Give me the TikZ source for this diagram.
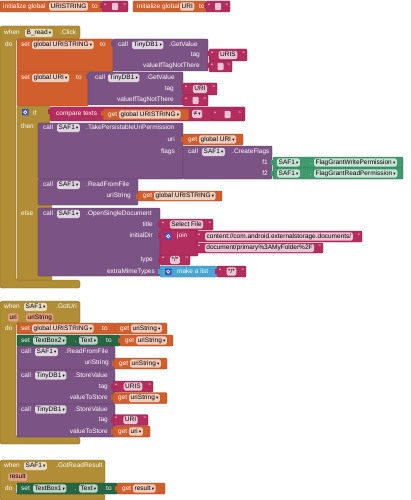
\documentclass[tikz,border=0pt]{standalone}
\usepackage{fontspec}
\setmainfont{Liberation Sans}
\newfontfamily\dv{DejaVu Sans}
\definecolor{gold}{HTML}{B18E35}
\definecolor{orng}{HTML}{D05F2D}
\definecolor{purp}{HTML}{7C5385}
\definecolor{pink}{HTML}{B32D5E}
\definecolor{dgrn}{HTML}{266643}
\definecolor{mgrn}{HTML}{3F9A6E}
\definecolor{lblu}{HTML}{49A6D4}
\definecolor{gearc}{HTML}{3A4FC8}
\colorlet{orF}{white!68!orng}
\colorlet{puF}{white!75!purp}
\colorlet{piF}{white!72!pink}
\colorlet{grF}{white!70!dgrn}
\colorlet{mgF}{white!72!mgrn}
\colorlet{goF}{white!68!gold}
\colorlet{prm}{white!40!orng}
\newcount\nc
\newcommand\fs{\fontsize{6.5}{7.5}\selectfont}
\newcommand\dd{\hspace{1.2pt}{\dv\fontsize{4.5}{5}\selectfont ▾}}
\tikzset{
  blk/.style={line width=0.35pt, rounded corners=1pt},
  lbl/.style={text=white, inner sep=0pt, font=\fs, text height=4.6pt, text depth=1.3pt},
  fld/.style={text=black, inner xsep=1.5pt, inner ysep=1.1pt, rounded corners=1.5pt, font=\fs,
     text height=4.6pt, text depth=1.3pt, anchor=west},
}
\newcommand\B[5]{\draw[blk,fill=#1,draw=#1!70!black] (#2,#3) rectangle (#4,#5);}
\newcommand\V[5]{\fill[#1] (#2-2.2,#3+2.5) rectangle (#2+0.5,#3+7.5);\B{#1}{#2}{#3}{#4}{#5}}
\newcommand\lb[2]{\global\advance\nc by 1\relax\node[lbl,anchor=west] (n\the\nc) at (#1) {#2};}
\newcommand\lr[2]{\global\advance\nc by 1\relax\node[lbl,anchor=east] (n\the\nc) at (#1) {#2};}
\newcommand\fd[3]{\global\advance\nc by 1\relax\node[fld,fill=#1] (n\the\nc) at (#2) {#3};}
\newcommand\fc[3]{\global\advance\nc by 1\relax\node[fld,fill=#1,anchor=center] (n\the\nc) at (#2) {#3};}
\newcommand\strb[5]{\V{pink}{#1}{#2}{#3}{#4}%
  \lb{#1+2,{(#2+#4)/2}}{“}\lr{#3-2,{(#2+#4)/2}}{”}%
  \fc{piF}{{(#1+#3)/2},{(#2+#4)/2}}{#5}}
\newcommand\estr[4]{\V{pink}{#1}{#2}{#3}{#4}%
  \lb{#1+2,{(#2+#4)/2}}{“}\lr{#3-2,{(#2+#4)/2}}{”}%
  \fill[piF,rounded corners=1pt] ({(#1+#3)/2-3},{(#2+#4)/2-3.6}) rectangle ({(#1+#3)/2+3},{(#2+#4)/2+3.6});}
\newcommand\getb[5]{\V{orng}{#1}{#2}{#3}{#4}%
  \lb{#1+5,{(#2+#4)/2}}{get}\fd{orF}{#1+16,{(#2+#4)/2}}{#5\dd}}
\newcommand\gearI[2]{\fill[gearc,rounded corners=0.6pt] (#1,#2) rectangle (#1+6.5,#2+6.5);
  \draw[white,line width=0.6pt] (#1+3.25,#2+3.25) circle (1.6pt);}
\newcommand\EV[5]{\draw[blk,fill=gold,draw=gold!70!black,rounded corners=1.5pt]
  (0,#2) -- (#1,#2) -- (#1,#3) -- (16,#3) -- (16,#4) -- (#1,#4) -- (#1,#5) -- (0,#5) -- cycle;}
\begin{document}
\begin{tikzpicture}[x=1pt,y=-1pt]
\useasboundingbox (0,0) rectangle (410,500);
% ---- globals
\B{orng}{0}{1}{102}{12}
\lb{3,6.5}{initialize global}\fd{orF}{49,6.5}{URISTRING}\lb{92,6.5}{to}
\estr{102}{1}{128}{12}
\B{orng}{133}{1}{206}{12}
\lb{137,6.5}{initialize global}\fd{orF}{180,6.5}{URI}\lb{199,6.5}{to}
\estr{206}{1}{230}{12}
% ---- event 1
\EV{80}{26}{39}{280}{288}
\lb{4,33}{when}\fd{goF}{25,33}{B\_read\dd}\lb{60,33}{.Click}
\lb{5,45}{do}
\B{orng}{17}{39}{113}{72}
\lb{21,45}{set}\fd{orF}{32,45}{global URISTRING\dd}\lb{100,45}{to}
\V{purp}{113}{39}{208}{71}
\lb{118,45}{call}\fd{puF}{132,45}{TinyDB1\dd}\lb{169,45}{.GetValue}
\lr{200,55}{tag}\lr{200,66}{valueIfTagNotThere}
\strb{209}{49}{247}{61}{URIS}
\estr{209}{61}{232}{72}
\B{orng}{17}{72}{88}{106}
\lb{21,78}{set}\fd{orF}{32,78}{global URI\dd}\lb{76,78}{to}
\V{purp}{88}{72}{183}{105}
\lb{95,78}{call}\fd{puF}{108,78}{TinyDB1\dd}\lb{146,78}{.GetValue}
\lr{174,89}{tag}\lr{174,100}{valueIfTagNotThere}
\strb{183}{83}{217}{95}{URI}
\estr{183}{95}{208}{106}
% if block
\draw[blk,fill=gold,draw=gold!70!black] (17,106) -- (50,106) -- (50,123) -- (38,123) -- (38,205) -- (52,205) -- (52,208) -- (38,208) -- (38,276) -- (52,276) -- (52,280) -- (17,280) -- cycle;
\gearI{22}{109}
\lb{33,114}{if}
\lb{21,127}{then}
\lb{21,214}{else}
\V{pink}{50}{107}{245}{121}
\lb{56,114}{compare texts}
\getb{103}{109}{189}{120}{global URISTRING}
\fd{piF}{192,114}{≠\dd}
\estr{212}{109}{243}{120}
% then
\B{purp}{38}{123}{183}{179}
\lb{43,128}{call}\fd{puF}{57,128}{SAF1\dd}\lb{86,128}{.TakePersistableUriPermission}
\lr{175,140}{uri}\lr{175,152}{flags}
\getb{183}{134}{243}{145}{global URI}
\V{purp}{183}{146}{272}{179}
\lb{188,152}{call}\fd{puF}{202,152}{SAF1\dd}\lb{232,152}{.CreateFlags}
\lr{268,162.5}{f1}\lr{268,173.5}{f2}
\V{mgrn}{273}{157}{403}{168}
\fd{mgF}{277,162.5}{SAF1\dd}\lb{309.5,162.5}{.}\fd{mgF}{314,162.5}{FlagGrantWritePermission\dd}
\V{mgrn}{273}{168}{403}{179}
\fd{mgF}{277,173.5}{SAF1\dd}\lb{309.5,173.5}{.}\fd{mgF}{314,173.5}{FlagGrantReadPermission\dd}
\B{purp}{38}{179}{138}{205}
\lb{43,185}{call}\fd{puF}{57,185}{SAF1\dd}\lb{86,185}{.ReadFromFile}
\lr{131,196}{uriString}
\getb{138}{191}{222}{201}{global URISTRING}
% else
\B{purp}{38}{208}{160}{276}
\lb{43,214}{call}\fd{puF}{57,214}{SAF1\dd}\lb{86,214}{.OpenSingleDocument}
\lr{153,225}{title}\lr{153,236}{initialDir}\lr{153,260}{type}\lr{155,271.5}{extraMimeTypes}
\strb{160}{219}{213}{230}{Select File}
\V{pink}{160}{230}{198}{256}
\gearI{165}{233}\lb{177,236}{join}
\strb{196}{231}{362}{242}{content://com.android.externalstorage.documents/}
\strb{196}{243}{323}{253}{document/primary\%3AMyFolder\%2F}
\strb{160}{255}{190}{265}{*/*}
\V{lblu}{160}{266}{217}{277}
\gearI{165}{268.3}\lb{177,271.5}{make a list}
\strb{217}{266}{246}{277}{*/*}
% ---- event 2
\EV{80}{301}{323}{437}{444}
\lb{4,307}{when}\fd{goF}{24,307}{SAF1\dd}\lb{56,307}{.GotUri}
\fd{prm}{8,317.5}{uri}\fd{prm}{26,317.5}{uriString}
\lb{5,329}{do}
\B{orng}{17}{323}{115}{334}
\lb{21,328.5}{set}\fd{orF}{32,328.5}{global URISTRING\dd}\lb{102,328.5}{to}
\getb{115}{323}{167}{334}{uriString}
\B{dgrn}{17}{335}{120}{346}
\lb{21,340.5}{set}\fd{grF}{33,340.5}{TextBox2\dd}\lb{74.5,340.5}{.}\fd{grF}{79,340.5}{Text\dd}\lb{106,340.5}{to}
\getb{120}{335}{173}{346}{uriString}
\B{purp}{17}{346}{115}{370}
\lb{21,352}{call}\fd{puF}{35,352}{SAF1\dd}\lb{65,352}{.ReadFromFile}
\lr{109,363}{uriString}
\getb{114}{358}{167}{369}{uriString}
\B{purp}{17}{370}{115}{404}
\lb{21,375.5}{call}\fd{puF}{35,375.5}{TinyDB1\dd}\lb{74,375.5}{.StoreValue}
\lr{108,386.5}{tag}\lr{108,398}{valueToStore}
\strb{113}{381}{153}{392}{URIS}
\getb{113}{392.5}{167}{403.5}{uriString}
\B{purp}{17}{404}{115}{437}
\lb{21,409.5}{call}\fd{puF}{35,409.5}{TinyDB1\dd}\lb{74,409.5}{.StoreValue}
\lr{108,420}{tag}\lr{108,431.5}{valueToStore}
\strb{113}{414.5}{148}{425.5}{URI}
\getb{113}{426}{150}{437}{uri}
% ---- event 3
\EV{105}{460}{483}{494}{500}
\lb{4,466}{when}\fd{goF}{24,466}{SAF1\dd}\lb{56,466}{.GotReadResult}
\fd{prm}{8,477}{result}
\lb{5,489}{do}
\B{dgrn}{17}{483}{117}{494}
\lb{21,488.5}{set}\fd{grF}{33,488.5}{TextBox1\dd}\lb{74.5,488.5}{.}\fd{grF}{79,488.5}{Text\dd}\lb{106,488.5}{to}
\getb{117}{483}{165}{494}{result}
\end{tikzpicture}
\end{document}
